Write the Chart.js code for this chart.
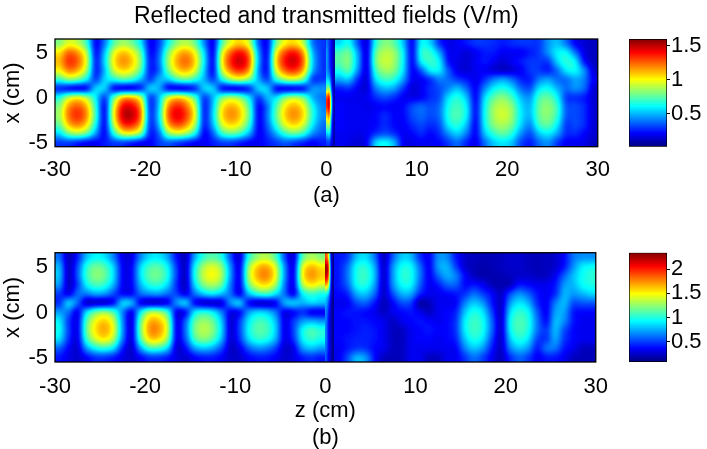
<!DOCTYPE html>
<html>
<head>
<meta charset="utf-8">
<script src="https://cdn.jsdelivr.net/npm/chart.js@4.4.1/dist/chart.umd.min.js"></script>
<style>
  html, body { margin: 0; padding: 0; background: #fff; overflow: hidden; }
  #fig { position: relative; width: 707px; height: 449px; }
  .box { position: absolute; }
</style>
</head>
<body>
<div id="fig">
  <div class="box" style="left:0;top:0;width:620px;height:215px"><canvas id="heatA"></canvas></div>
  <div class="box" style="left:620px;top:0;width:87px;height:215px"><canvas id="barA"></canvas></div>
  <div class="box" style="left:0;top:215px;width:620px;height:236px"><canvas id="heatB"></canvas></div>
  <div class="box" style="left:620px;top:215px;width:87px;height:236px"><canvas id="barB"></canvas></div>
</div>
<script>
// axes and ticks
const zTicks = [-30, -20, -10, 0, 10, 20, 30];
const xTicks = [-5, 0, 5];
const cbarTicksA = [0.5, 1, 1.5];
const cbarTicksB = [0.5, 1, 1.5, 2];
const rangeA = [0.02, 1.6];
const rangeB = [0.08, 2.34];

// cell centres (cm): z along the guide, x across it (top row first)
const xCells = [6.1, 5.1, 4.1, 3.1, 2.1, 1.1, 0.1, -0.9, -1.9, -2.9, -3.9, -4.9];
const zCellsRefl = [-29.5, -28.5, -27.5, -26.5, -25.5, -24.5, -23.5, -22.5, -21.5, -20.5,
  -19.5, -18.5, -17.5, -16.5, -15.5, -14.5, -13.5, -12.5, -11.5, -10.5,
  -9.5, -8.5, -7.5, -6.5, -5.5, -4.5, -3.5, -2.5, -1.5, -0.5];
const zCellsIface = [0.125, 0.375, 0.625, 0.875];
const zCellsTrans = [1.5, 2.5, 3.5, 4.5, 5.5, 6.5, 7.5, 8.5, 9.5, 10.5,
  11.5, 12.5, 13.5, 14.5, 15.5, 16.5, 17.5, 18.5, 19.5, 20.5,
  21.5, 22.5, 23.5, 24.5, 25.5, 26.5, 27.5, 28.5, 29.5];

// (a) |E|, V/m
const fieldA_refl = [
  [0.81, 0.96, 0.91, 0.7, 0.2, 0.4, 0.74, 0.86, 0.79, 0.59, 0.2, 0.3, 0.61, 0.83, 0.9, 0.78, 0.43, 0.18, 0.73, 0.99, 1.08, 0.93, 0.36, 0.2, 0.78, 1.02, 1.07, 0.9, 0.4, 0.3],
  [1.04, 1.25, 1.18, 0.9, 0.22, 0.51, 0.96, 1.11, 1.02, 0.76, 0.22, 0.35, 0.79, 1.07, 1.16, 1.0, 0.56, 0.18, 0.95, 1.28, 1.4, 1.2, 0.47, 0.2, 1.0, 1.31, 1.39, 1.16, 0.51, 0.3],
  [1.12, 1.34, 1.27, 0.97, 0.25, 0.55, 1.03, 1.19, 1.1, 0.82, 0.25, 0.38, 0.85, 1.15, 1.25, 1.08, 0.6, 0.2, 1.02, 1.38, 1.5, 1.29, 0.5, 0.22, 1.08, 1.41, 1.49, 1.25, 0.55, 0.3],
  [1.01, 1.21, 1.14, 0.87, 0.25, 0.5, 0.93, 1.07, 0.99, 0.74, 0.25, 0.35, 0.77, 1.04, 1.13, 0.97, 0.54, 0.2, 0.92, 1.24, 1.35, 1.16, 0.45, 0.22, 0.97, 1.27, 1.34, 1.13, 0.5, 0.3],
  [0.69, 0.83, 0.79, 0.6, 0.3, 0.55, 0.64, 0.74, 0.68, 0.51, 0.3, 0.5, 0.53, 0.71, 0.78, 0.67, 0.5, 0.3, 0.63, 0.86, 0.93, 0.8, 0.5, 0.3, 0.67, 0.87, 0.92, 0.78, 0.3, 0.3],
  [0.25, 0.18, 0.15, 0.2, 0.55, 0.55, 0.2, 0.15, 0.15, 0.25, 0.55, 0.5, 0.2, 0.15, 0.15, 0.25, 0.55, 0.55, 0.2, 0.15, 0.15, 0.25, 0.55, 0.55, 0.2, 0.15, 0.15, 0.2, 0.45, 0.45],
  [0.65, 0.92, 1.01, 0.89, 0.6, 0.3, 0.75, 1.12, 1.14, 0.93, 0.3, 0.5, 0.94, 1.09, 1.0, 0.74, 0.3, 0.5, 0.8, 0.9, 0.82, 0.58, 0.3, 0.5, 0.58, 0.82, 0.9, 0.8, 0.5, 0.4],
  [0.82, 1.17, 1.28, 1.13, 0.67, 0.2, 0.95, 1.42, 1.44, 1.18, 0.28, 0.52, 1.19, 1.38, 1.26, 0.94, 0.25, 0.52, 1.01, 1.14, 1.04, 0.73, 0.2, 0.38, 0.73, 1.04, 1.14, 1.01, 0.64, 0.43],
  [0.86, 1.23, 1.35, 1.19, 0.7, 0.2, 1.0, 1.49, 1.52, 1.24, 0.3, 0.55, 1.25, 1.45, 1.33, 0.99, 0.25, 0.55, 1.06, 1.2, 1.09, 0.77, 0.2, 0.4, 0.77, 1.09, 1.2, 1.06, 0.67, 0.45],
  [0.77, 1.11, 1.22, 1.07, 0.63, 0.2, 0.9, 1.34, 1.37, 1.12, 0.28, 0.5, 1.13, 1.31, 1.2, 0.89, 0.25, 0.5, 0.95, 1.08, 0.98, 0.69, 0.2, 0.36, 0.69, 0.98, 1.08, 0.95, 0.6, 0.4],
  [0.56, 0.8, 0.88, 0.77, 0.46, 0.2, 0.65, 0.97, 0.99, 0.81, 0.25, 0.36, 0.81, 0.94, 0.86, 0.64, 0.2, 0.36, 0.69, 0.78, 0.71, 0.5, 0.2, 0.3, 0.5, 0.71, 0.78, 0.69, 0.44, 0.35],
  [0.3, 0.3, 0.25, 0.2, 0.2, 0.25, 0.3, 0.3, 0.25, 0.2, 0.2, 0.3, 0.35, 0.3, 0.25, 0.2, 0.2, 0.25, 0.3, 0.3, 0.25, 0.2, 0.2, 0.25, 0.3, 0.35, 0.3, 0.25, 0.2, 0.25]
];
const fieldA_iface = [
  [0.4, 0.3, 0.2, 0.08], [0.45, 0.3, 0.2, 0.08], [0.45, 0.3, 0.2, 0.08], [0.45, 0.35, 0.2, 0.08],
  [0.55, 0.5, 0.25, 0.08], [0.8, 0.85, 0.35, 0.08], [1.3, 1.4, 0.5, 0.08], [1.35, 1.45, 0.55, 0.08],
  [1.1, 1.2, 0.45, 0.08], [0.85, 0.9, 0.35, 0.08], [0.55, 0.6, 0.3, 0.08], [0.3, 0.3, 0.2, 0.08]
];
const fieldA_trans = [
  [0.55, 0.64, 0.35, 0.15, 0.66, 0.82, 0.76, 0.53, 0.2, 0.61, 0.55, 0.28, 0.18, 0.2, 0.25, 0.3, 0.3, 0.28, 0.25, 0.28, 0.3, 0.3, 0.3, 0.45, 0.52, 0.39, 0.2, 0.15, 0.12],
  [0.72, 0.79, 0.47, 0.15, 0.77, 0.9, 0.86, 0.61, 0.2, 0.67, 0.69, 0.48, 0.2, 0.2, 0.15, 0.2, 0.25, 0.25, 0.2, 0.2, 0.2, 0.25, 0.3, 0.45, 0.6, 0.62, 0.39, 0.17, 0.12],
  [0.75, 0.82, 0.5, 0.15, 0.8, 0.93, 0.87, 0.61, 0.2, 0.61, 0.71, 0.61, 0.23, 0.18, 0.15, 0.2, 0.25, 0.2, 0.15, 0.2, 0.25, 0.3, 0.3, 0.3, 0.55, 0.68, 0.6, 0.23, 0.12],
  [0.65, 0.76, 0.44, 0.15, 0.71, 0.86, 0.82, 0.58, 0.2, 0.35, 0.6, 0.6, 0.35, 0.18, 0.15, 0.2, 0.2, 0.15, 0.12, 0.15, 0.2, 0.3, 0.3, 0.25, 0.38, 0.59, 0.63, 0.44, 0.15],
  [0.48, 0.53, 0.28, 0.15, 0.58, 0.71, 0.67, 0.47, 0.2, 0.2, 0.28, 0.41, 0.38, 0.3, 0.25, 0.18, 0.28, 0.41, 0.47, 0.39, 0.26, 0.25, 0.41, 0.47, 0.38, 0.38, 0.48, 0.41, 0.2],
  [0.25, 0.28, 0.2, 0.15, 0.41, 0.51, 0.47, 0.3, 0.15, 0.2, 0.28, 0.33, 0.42, 0.52, 0.38, 0.2, 0.42, 0.6, 0.66, 0.57, 0.38, 0.33, 0.58, 0.63, 0.5, 0.38, 0.45, 0.38, 0.15],
  [0.2, 0.2, 0.18, 0.2, 0.28, 0.33, 0.28, 0.2, 0.18, 0.2, 0.28, 0.33, 0.57, 0.67, 0.52, 0.2, 0.56, 0.76, 0.83, 0.72, 0.51, 0.45, 0.72, 0.77, 0.62, 0.3, 0.28, 0.25, 0.15],
  [0.22, 0.2, 0.2, 0.18, 0.2, 0.22, 0.2, 0.22, 0.33, 0.38, 0.33, 0.38, 0.64, 0.72, 0.6, 0.22, 0.61, 0.86, 0.91, 0.83, 0.57, 0.5, 0.77, 0.84, 0.7, 0.35, 0.33, 0.28, 0.15],
  [0.22, 0.2, 0.2, 0.2, 0.22, 0.28, 0.22, 0.22, 0.33, 0.38, 0.33, 0.38, 0.66, 0.74, 0.61, 0.22, 0.63, 0.87, 0.95, 0.85, 0.59, 0.5, 0.77, 0.83, 0.69, 0.35, 0.33, 0.28, 0.15],
  [0.22, 0.2, 0.2, 0.2, 0.22, 0.28, 0.22, 0.2, 0.28, 0.33, 0.28, 0.33, 0.6, 0.68, 0.52, 0.2, 0.6, 0.83, 0.88, 0.8, 0.55, 0.42, 0.71, 0.77, 0.6, 0.3, 0.33, 0.28, 0.15],
  [0.2, 0.2, 0.18, 0.2, 0.28, 0.33, 0.28, 0.2, 0.22, 0.28, 0.22, 0.28, 0.45, 0.55, 0.41, 0.2, 0.52, 0.69, 0.77, 0.67, 0.45, 0.33, 0.53, 0.6, 0.48, 0.28, 0.28, 0.22, 0.15],
  [0.2, 0.18, 0.15, 0.2, 0.55, 0.63, 0.51, 0.2, 0.18, 0.2, 0.2, 0.22, 0.3, 0.38, 0.26, 0.18, 0.38, 0.53, 0.58, 0.52, 0.32, 0.25, 0.38, 0.44, 0.3, 0.2, 0.2, 0.18, 0.12]
];

// (b)
const fieldB_refl = [
  [0.6, 0.2, 0.41, 0.79, 0.93, 0.88, 0.65, 0.3, 0.3, 0.66, 0.86, 0.89, 0.74, 0.38, 0.2, 0.72, 1.03, 1.13, 0.99, 0.53, 0.25, 0.98, 1.27, 1.34, 1.12, 0.53, 0.25, 1.13, 1.31, 1.21],
  [0.76, 0.2, 0.52, 1.0, 1.18, 1.11, 0.83, 0.35, 0.35, 0.84, 1.08, 1.12, 0.93, 0.48, 0.2, 0.91, 1.3, 1.43, 1.25, 0.67, 0.28, 1.24, 1.61, 1.69, 1.42, 0.67, 0.28, 1.43, 1.66, 1.53],
  [0.8, 0.2, 0.55, 1.05, 1.24, 1.17, 0.87, 0.35, 0.35, 0.88, 1.14, 1.18, 0.98, 0.5, 0.2, 0.96, 1.37, 1.5, 1.32, 0.7, 0.3, 1.3, 1.69, 1.78, 1.49, 0.7, 0.3, 1.5, 1.75, 1.61],
  [0.7, 0.2, 0.48, 0.92, 1.09, 1.03, 0.77, 0.35, 0.35, 0.77, 1.0, 1.04, 0.86, 0.44, 0.2, 0.84, 1.21, 1.32, 1.16, 0.62, 0.3, 1.14, 1.49, 1.57, 1.31, 0.62, 0.3, 1.32, 1.54, 1.42],
  [0.48, 0.3, 0.6, 0.63, 0.74, 0.7, 0.52, 0.35, 0.35, 0.6, 0.68, 0.71, 0.59, 0.5, 0.3, 0.6, 0.82, 0.9, 0.79, 0.6, 0.3, 0.78, 1.01, 1.07, 0.89, 0.6, 0.3, 0.9, 1.05, 0.97],
  [0.45, 0.85, 0.6, 0.2, 0.2, 0.2, 0.35, 0.85, 0.8, 0.3, 0.2, 0.2, 0.3, 0.7, 0.85, 0.35, 0.2, 0.2, 0.25, 0.7, 0.85, 0.35, 0.2, 0.2, 0.3, 0.75, 0.85, 0.75, 0.85, 0.8],
  [0.71, 0.6, 0.3, 0.87, 1.17, 1.28, 1.1, 0.65, 0.3, 0.9, 1.31, 1.31, 1.05, 0.3, 0.35, 0.89, 1.01, 0.92, 0.65, 0.3, 0.35, 0.71, 0.85, 0.82, 0.63, 0.3, 0.35, 0.45, 0.3, 0.3],
  [0.9, 0.48, 0.3, 1.1, 1.48, 1.62, 1.39, 0.67, 0.25, 1.14, 1.66, 1.66, 1.33, 0.3, 0.57, 1.13, 1.28, 1.17, 0.82, 0.25, 0.48, 0.89, 1.07, 1.04, 0.8, 0.3, 0.48, 0.7, 0.75, 0.7],
  [0.95, 0.5, 0.3, 1.16, 1.56, 1.7, 1.46, 0.7, 0.25, 1.2, 1.75, 1.75, 1.4, 0.3, 0.6, 1.19, 1.35, 1.23, 0.86, 0.25, 0.5, 0.94, 1.13, 1.09, 0.84, 0.3, 0.5, 0.95, 1.1, 1.01],
  [0.86, 0.45, 0.28, 1.04, 1.4, 1.53, 1.31, 0.63, 0.25, 1.08, 1.58, 1.58, 1.26, 0.3, 0.54, 1.07, 1.22, 1.11, 0.77, 0.25, 0.45, 0.85, 1.02, 0.98, 0.76, 0.3, 0.45, 0.9, 1.05, 0.96],
  [0.57, 0.35, 0.25, 0.7, 0.94, 1.02, 0.88, 0.42, 0.22, 0.72, 1.05, 1.05, 0.84, 0.25, 0.36, 0.71, 0.81, 0.74, 0.52, 0.22, 0.3, 0.56, 0.68, 0.65, 0.5, 0.25, 0.3, 0.7, 0.8, 0.72],
  [0.4, 0.3, 0.25, 0.35, 0.45, 0.45, 0.4, 0.3, 0.25, 0.35, 0.45, 0.45, 0.4, 0.3, 0.25, 0.35, 0.4, 0.4, 0.35, 0.25, 0.25, 0.35, 0.4, 0.4, 0.35, 0.25, 0.3, 0.4, 0.45, 0.4]
];
const fieldB_iface = [
  [1.9, 1.6, 0.5, 0.1], [2.3, 2.05, 0.6, 0.1], [2.2, 1.95, 0.6, 0.1], [1.7, 1.5, 0.5, 0.1],
  [0.95, 0.8, 0.4, 0.1], [0.75, 0.55, 0.3, 0.1], [0.65, 0.45, 0.25, 0.1], [0.65, 0.4, 0.25, 0.1],
  [0.65, 0.4, 0.25, 0.1], [0.65, 0.4, 0.25, 0.1], [0.6, 0.4, 0.25, 0.1], [0.55, 0.35, 0.25, 0.1]
];
const fieldB_trans = [
  [0.4, 0.47, 0.8, 0.87, 0.63, 0.2, 0.56, 0.82, 0.79, 0.46, 0.33, 0.67, 0.67, 0.4, 0.25, 0.22, 0.2, 0.2, 0.22, 0.25, 0.25, 0.22, 0.2, 0.22, 0.25, 0.36, 0.62, 0.68, 0.68],
  [0.4, 0.59, 0.96, 1.01, 0.75, 0.22, 0.68, 0.97, 0.95, 0.61, 0.33, 0.71, 0.77, 0.5, 0.25, 0.2, 0.18, 0.2, 0.22, 0.25, 0.25, 0.22, 0.2, 0.22, 0.25, 0.4, 0.68, 0.9, 0.95],
  [0.4, 0.62, 0.98, 1.06, 0.8, 0.22, 0.7, 1.01, 0.98, 0.64, 0.33, 0.58, 0.75, 0.66, 0.36, 0.22, 0.18, 0.18, 0.2, 0.22, 0.25, 0.25, 0.22, 0.22, 0.33, 0.58, 0.79, 0.95, 1.02],
  [0.4, 0.58, 0.95, 1.0, 0.73, 0.22, 0.67, 0.95, 0.94, 0.58, 0.33, 0.4, 0.58, 0.58, 0.36, 0.4, 0.33, 0.2, 0.18, 0.2, 0.4, 0.36, 0.33, 0.33, 0.4, 0.71, 0.77, 0.94, 0.98],
  [0.36, 0.43, 0.75, 0.82, 0.59, 0.22, 0.52, 0.77, 0.75, 0.44, 0.33, 0.33, 0.36, 0.4, 0.46, 0.61, 0.49, 0.36, 0.22, 0.52, 0.68, 0.58, 0.4, 0.33, 0.44, 0.77, 0.7, 0.77, 0.85],
  [0.33, 0.33, 0.52, 0.58, 0.4, 0.2, 0.35, 0.53, 0.5, 0.15, 0.2, 0.33, 0.33, 0.35, 0.66, 0.82, 0.7, 0.4, 0.22, 0.71, 0.89, 0.77, 0.44, 0.33, 0.64, 0.79, 0.52, 0.55, 0.55],
  [0.36, 0.4, 0.4, 0.36, 0.33, 0.22, 0.33, 0.36, 0.4, 0.33, 0.22, 0.33, 0.36, 0.43, 0.81, 0.99, 0.88, 0.5, 0.22, 0.86, 1.04, 0.94, 0.56, 0.33, 0.73, 0.73, 0.4, 0.36, 0.36],
  [0.36, 0.36, 0.4, 0.4, 0.36, 0.33, 0.22, 0.33, 0.36, 0.4, 0.36, 0.33, 0.36, 0.47, 0.91, 1.06, 0.97, 0.58, 0.22, 0.95, 1.1, 1.0, 0.62, 0.36, 0.79, 0.67, 0.4, 0.33, 0.33],
  [0.36, 0.36, 0.4, 0.43, 0.4, 0.33, 0.22, 0.22, 0.33, 0.36, 0.4, 0.36, 0.36, 0.47, 0.91, 1.06, 0.97, 0.58, 0.22, 0.92, 1.09, 0.98, 0.61, 0.47, 0.79, 0.52, 0.36, 0.33, 0.33],
  [0.36, 0.4, 0.43, 0.43, 0.4, 0.33, 0.22, 0.22, 0.33, 0.36, 0.36, 0.33, 0.36, 0.43, 0.81, 0.99, 0.88, 0.5, 0.22, 0.81, 1.0, 0.88, 0.5, 0.47, 0.74, 0.47, 0.36, 0.33, 0.33],
  [0.33, 0.4, 0.47, 0.46, 0.36, 0.33, 0.22, 0.22, 0.33, 0.33, 0.33, 0.33, 0.33, 0.35, 0.66, 0.82, 0.7, 0.4, 0.22, 0.66, 0.81, 0.7, 0.4, 0.62, 0.62, 0.4, 0.33, 0.22, 0.22],
  [0.33, 0.52, 0.78, 0.71, 0.38, 0.22, 0.2, 0.22, 0.33, 0.33, 0.22, 0.22, 0.33, 0.33, 0.47, 0.61, 0.5, 0.33, 0.2, 0.44, 0.58, 0.49, 0.33, 0.4, 0.4, 0.33, 0.22, 0.2, 0.2]
];

const FONT = { family: "'Liberation Sans', Arial, sans-serif", size: 22, weight: 'normal' };
const TITLE_FONT = { family: "'Liberation Sans', Arial, sans-serif", size: 23, weight: 'normal' };

function jet(t) {
  t = Math.min(1, Math.max(0, t));
  const c = v => Math.min(1, Math.max(0, v));
  return [c(1.5 - Math.abs(4 * t - 3)), c(1.5 - Math.abs(4 * t - 2)), c(1.5 - Math.abs(4 * t - 1))];
}

// values -> grey image, let the canvas smooth it (like shading interp), then colour with jet
function renderBlock(values, w, h, vmin, vmax) {
  const rows = values.length, cols = values[0].length;
  const src = document.createElement('canvas');
  src.width = cols; src.height = rows;
  const sctx = src.getContext('2d');
  const sd = sctx.createImageData(cols, rows);
  for (let r = 0; r < rows; r++) {
    for (let c = 0; c < cols; c++) {
      const t = (values[r][c] - vmin) / (vmax - vmin);
      const g = Math.round(255 * Math.min(1, Math.max(0, t)));
      const i = 4 * (r * cols + c);
      sd.data[i] = g; sd.data[i + 1] = g; sd.data[i + 2] = g; sd.data[i + 3] = 255;
    }
  }
  sctx.putImageData(sd, 0, 0);
  const out = document.createElement('canvas');
  out.width = Math.max(1, w); out.height = Math.max(1, h);
  const octx = out.getContext('2d', { willReadFrequently: true });
  octx.imageSmoothingEnabled = true;
  octx.imageSmoothingQuality = 'high';
  octx.drawImage(src, 0, 0, out.width, out.height);
  const od = octx.getImageData(0, 0, out.width, out.height);
  for (let i = 0; i < od.data.length; i += 4) {
    const [r, g, b] = jet(od.data[i] / 255);
    od.data[i] = r * 255; od.data[i + 1] = g * 255; od.data[i + 2] = b * 255; od.data[i + 3] = 255;
  }
  octx.putImageData(od, 0, 0);
  return out;
}

function makeHeatmap(blocks, range) {
  return {
    id: 'heatmap',
    beforeDatasetsDraw(chart) {
      const { ctx, chartArea: a, scales: { x, y } } = chart;
      const dx = xCells[0] - xCells[1];
      const xTop = xCells[0] + dx / 2, xBot = xCells[xCells.length - 1] - dx / 2;
      ctx.save();
      ctx.beginPath();
      ctx.rect(a.left, a.top, a.width, a.height);
      ctx.clip();
      blocks.forEach(b => {
        const dz = b.z[1] - b.z[0];
        const L = Math.round(x.getPixelForValue(b.z[0] - dz / 2));
        const R = Math.round(x.getPixelForValue(b.z[b.z.length - 1] + dz / 2));
        const T = Math.round(y.getPixelForValue(xTop));
        const B = Math.round(y.getPixelForValue(xBot));
        const img = renderBlock(b.values, R - L, B - T, range[0], range[1]);
        ctx.drawImage(img, L, T, R - L, B - T);
      });
      ctx.restore();
    },
    afterDraw(chart) {
      const { ctx, chartArea: a } = chart;
      ctx.save();
      ctx.strokeStyle = '#000';
      ctx.lineWidth = 1.3;
      ctx.strokeRect(a.left, a.top, a.width, a.height);
      ctx.restore();
    }
  };
}

function heatChart(id, o) {
  return new Chart(document.getElementById(id), {
    type: 'scatter',
    data: { datasets: [] },
    options: {
      responsive: true,
      maintainAspectRatio: false,
      animation: false,
      events: [],
      layout: { padding: { top: o.padTop, right: 17.3, bottom: 0, left: 0 } },
      plugins: {
        legend: { display: false },
        tooltip: { enabled: false },
        title: {
          display: !!o.title, text: o.title || '', fullSize: false, color: '#000',
          font: TITLE_FONT, padding: { top: 3, bottom: 8.4 }
        }
      },
      scales: {
        x: {
          type: 'linear', min: -30, max: 30,
          afterBuildTicks: s => { s.ticks = zTicks.map(v => ({ value: v })); },
          afterFit: s => { s.height = o.xAxisH; },
          grid: { display: false, drawTicks: false },
          border: { display: false },
          ticks: { padding: o.tickPad, color: '#000', font: FONT, maxRotation: 0, autoSkip: false },
          title: { display: true, text: o.xTitle, color: '#000', font: FONT, padding: { top: 0, bottom: o.xTitlePad } }
        },
        y: {
          type: 'linear', min: -5.4, max: 6.6,
          afterBuildTicks: s => { s.ticks = xTicks.map(v => ({ value: v })); },
          afterFit: s => { s.width = 55; },
          grid: { display: false, drawTicks: false },
          border: { display: false },
          ticks: { padding: 7, color: '#000', font: FONT, autoSkip: false },
          title: { display: true, text: 'x (cm)', color: '#000', font: FONT, padding: { top: 0, bottom: 0 } }
        }
      }
    },
    plugins: [makeHeatmap(o.blocks, o.range)]
  });
}

function jetGradient(chart) {
  const a = chart.chartArea;
  if (!a) return '#0000ff';
  const g = chart.ctx.createLinearGradient(0, a.bottom, 0, a.top);
  for (let i = 0; i <= 32; i++) {
    const [r, gg, b] = jet(i / 32);
    g.addColorStop(i / 32, `rgb(${Math.round(r * 255)},${Math.round(gg * 255)},${Math.round(b * 255)})`);
  }
  return g;
}

function colorbarChart(id, o) {
  return new Chart(document.getElementById(id), {
    type: 'bar',
    data: {
      labels: [''],
      datasets: [{
        data: [[o.range[0], o.range[1]]],
        backgroundColor: ctx => jetGradient(ctx.chart),
        borderColor: '#000', borderWidth: 1, borderSkipped: false,
        barPercentage: 1, categoryPercentage: 1
      }]
    },
    options: {
      responsive: true,
      maintainAspectRatio: false,
      animation: false,
      events: [],
      layout: { padding: { left: 9, top: o.padTop, bottom: o.padBottom, right: 0 } },
      plugins: { legend: { display: false }, tooltip: { enabled: false } },
      scales: {
        x: { display: false },
        y: {
          position: 'right', min: o.range[0], max: o.range[1],
          afterBuildTicks: s => { s.ticks = o.ticks.map(v => ({ value: v })); },
          afterFit: s => { s.width = 40; },
          grid: { display: true, drawOnChartArea: false, drawTicks: true, tickLength: 3, color: '#000' },
          border: { display: false },
          ticks: { padding: 1, color: '#000', font: FONT, autoSkip: false, callback: v => String(v) }
        }
      }
    }
  });
}

heatChart('heatA', {
  title: 'Reflected and transmitted fields (V/m)',
  padTop: 0, xAxisH: 68.3, tickPad: 10, xTitle: '(a)', xTitlePad: 6,
  range: rangeA,
  blocks: [
    { z: zCellsRefl, values: fieldA_refl },
    { z: zCellsIface, values: fieldA_iface },
    { z: zCellsTrans, values: fieldA_trans }
  ]
});
colorbarChart('barA', { range: rangeA, ticks: cbarTicksA, padTop: 39, padBottom: 68.3 });

heatChart('heatB', {
  title: null,
  padTop: 37.7, xAxisH: 89, tickPad: 12, xTitle: ['z (cm)', '(b)'], xTitlePad: 0,
  range: rangeB,
  blocks: [
    { z: zCellsRefl, values: fieldB_refl },
    { z: zCellsIface, values: fieldB_iface },
    { z: zCellsTrans, values: fieldB_trans }
  ]
});
colorbarChart('barB', { range: rangeB, ticks: cbarTicksB, padTop: 37.7, padBottom: 89 });
</script>
</body>
</html>
